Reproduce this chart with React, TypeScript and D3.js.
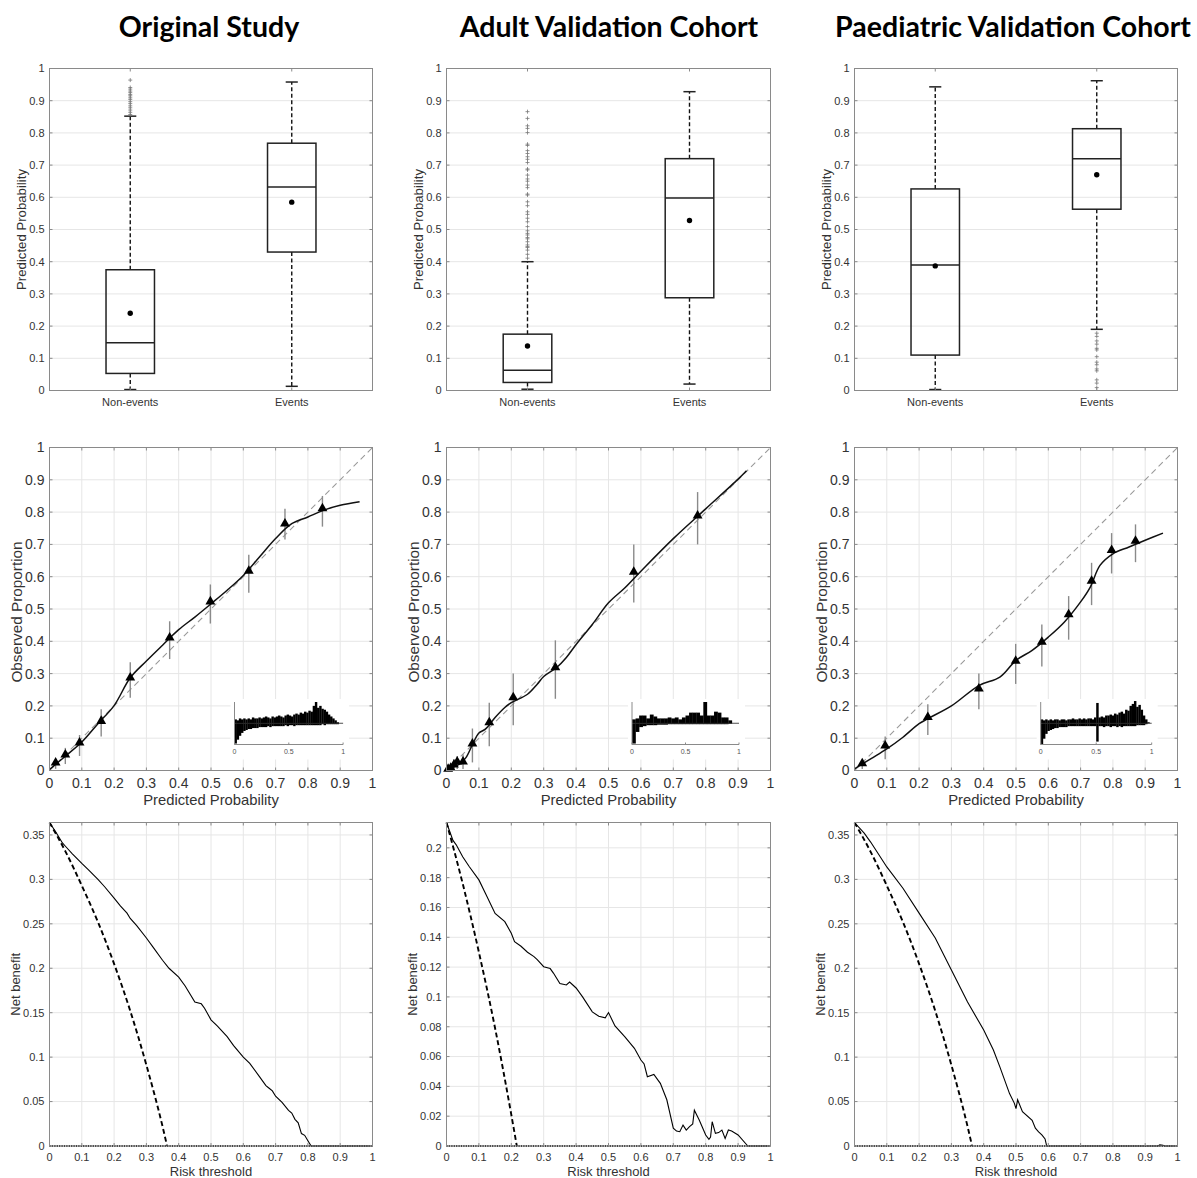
import React from "react";
import * as d3 from "d3";

// ---------------- DATA ----------------
const titles = ["Original Study", "Adult Validation Cohort", "Paediatric Validation Cohort"];
const boxCategories = ["Non-events", "Events"];

// box stats: [lower whisker, Q1, median, Q3, upper whisker]
const origNonEvents = [0.003, 0.053, 0.148, 0.375, 0.852];
const origEvents = [0.013, 0.43, 0.632, 0.768, 0.958];
const origMeans = [0.24, 0.585];
const origOutNon = [0.857, 0.864, 0.871, 0.878, 0.884, 0.891, 0.897, 0.904, 0.909, 0.915, 0.919, 0.925, 0.93, 0.936, 0.941, 0.964];
const origOutEv: number[] = [];

const adultNonEvents = [0.004, 0.025, 0.063, 0.175, 0.4];
const adultEvents = [0.02, 0.288, 0.598, 0.72, 0.928];
const adultMeans = [0.138, 0.528];
const adultOutNon = [0.866, 0.845, 0.822, 0.814, 0.801, 0.765, 0.761, 0.745, 0.736, 0.726, 0.718, 0.708, 0.688, 0.685, 0.669, 0.657, 0.65, 0.638, 0.63, 0.61, 0.607, 0.586, 0.574, 0.555, 0.547, 0.535, 0.524, 0.509, 0.496, 0.488, 0.483, 0.475, 0.471, 0.462, 0.452, 0.447, 0.444, 0.436, 0.423, 0.411];
const adultOutEv: number[] = [];

const paedNonEvents = [0.003, 0.11, 0.39, 0.626, 0.943];
const paedEvents = [0.19, 0.563, 0.72, 0.813, 0.962];
const paedMeans = [0.387, 0.67];
const paedOutNon: number[] = [];
const paedOutEv = [0.178, 0.168, 0.154, 0.144, 0.131, 0.126, 0.105, 0.088, 0.08, 0.067, 0.061, 0.033, 0.023, 0.009];

// calibration grouped points
const origCalX = [0.019, 0.049, 0.093, 0.16, 0.25, 0.372, 0.498, 0.617, 0.729, 0.845];
const origCalY = [0.021, 0.046, 0.083, 0.15, 0.284, 0.408, 0.52, 0.615, 0.761, 0.808];
const origCalLo = [0.005, 0.02, 0.045, 0.105, 0.225, 0.345, 0.455, 0.55, 0.715, 0.755];
const origCalHi = [0.035, 0.07, 0.11, 0.19, 0.335, 0.462, 0.576, 0.668, 0.81, 0.85];
const origCurveX = [0, 0.02, 0.05, 0.1, 0.15, 0.2, 0.25, 0.3, 0.35, 0.4, 0.45, 0.5, 0.55, 0.6, 0.65, 0.7, 0.75, 0.8, 0.85, 0.9, 0.96];
const origCurveY = [0.003, 0.02, 0.045, 0.088, 0.145, 0.201, 0.287, 0.339, 0.388, 0.436, 0.475, 0.516, 0.558, 0.604, 0.661, 0.718, 0.764, 0.785, 0.806, 0.821, 0.832];

const adultCalX = [0.005, 0.013, 0.023, 0.033, 0.051, 0.08, 0.132, 0.206, 0.336, 0.578, 0.775];
const adultCalY = [0.002, 0.005, 0.015, 0.024, 0.024, 0.08, 0.146, 0.223, 0.316, 0.612, 0.786];
const adultCalLo = [0, 0, 0.002, 0.005, 0.005, 0.025, 0.075, 0.14, 0.222, 0.52, 0.7];
const adultCalHi = [0.01, 0.02, 0.035, 0.045, 0.05, 0.13, 0.21, 0.3, 0.403, 0.7, 0.862];
const adultCurveX = [0, 0.02, 0.04, 0.06, 0.08, 0.1, 0.12, 0.15, 0.18, 0.2, 0.25, 0.28, 0.3, 0.34, 0.37, 0.4, 0.45, 0.5, 0.55, 0.6, 0.7, 0.8, 0.9, 0.926];
const adultCurveY = [0, 0.01, 0.02, 0.04, 0.08, 0.116, 0.128, 0.164, 0.195, 0.21, 0.236, 0.267, 0.291, 0.319, 0.35, 0.39, 0.452, 0.519, 0.565, 0.617, 0.718, 0.81, 0.902, 0.928];

const paedCalX = [0.024, 0.095, 0.227, 0.385, 0.499, 0.58, 0.663, 0.734, 0.796, 0.87];
const paedCalY = [0.019, 0.074, 0.162, 0.25, 0.336, 0.395, 0.48, 0.584, 0.679, 0.708];
const paedCalLo = [0.005, 0.035, 0.11, 0.19, 0.268, 0.322, 0.405, 0.512, 0.61, 0.645];
const paedCalHi = [0.03, 0.105, 0.205, 0.3, 0.392, 0.452, 0.54, 0.643, 0.735, 0.762];
const paedCurveX = [0, 0.05, 0.1, 0.15, 0.2, 0.23, 0.3, 0.385, 0.45, 0.5, 0.55, 0.6, 0.65, 0.7, 0.73, 0.76, 0.8, 0.85, 0.9, 0.955];
const paedCurveY = [0.005, 0.036, 0.067, 0.103, 0.145, 0.162, 0.2, 0.263, 0.289, 0.341, 0.372, 0.413, 0.46, 0.522, 0.568, 0.635, 0.671, 0.692, 0.713, 0.735];

// inset histograms (mirrored): events above, non-events below
const origHistEvents = [4, 3, 5, 4, 5, 4, 5, 4, 6, 5, 5, 6, 5, 6, 7, 6, 5, 7, 6, 7, 8, 7, 6, 8, 9, 8, 7, 9, 10, 9, 11, 10, 12, 11, 13, 12, 18, 22, 16, 18, 15, 14, 12, 9, 7, 5, 3, 1, 0, 0];
const origHistNon = [21, 17, 13, 10, 8, 7, 6, 6, 5, 5, 5, 4, 4, 4, 4, 3, 4, 3, 3, 3, 3, 3, 3, 2, 3, 2, 2, 3, 2, 2, 2, 2, 2, 2, 2, 2, 2, 2, 2, 2, 1, 2, 1, 1, 1, 1, 1, 1, 0, 0];
const adultHistEvents = [4, 5, 8, 8, 5, 9, 7, 5, 5, 5, 6, 5, 6, 4, 6, 8, 11, 11, 11, 8, 22, 8, 8, 12, 11, 6, 6, 3];
const adultHistNon = [21, 9, 4, 3, 2, 2, 2, 1.5, 1.5, 1.5, 1, 1, 1, 1, 1, 1, 1, 1, 1, 1, 1, 1, 1, 1, 1, 1, 1, 0.5];
const paedHistEvents = [4, 3, 4, 3, 4, 3, 4, 4, 3, 4, 4, 3, 4, 4, 5, 4, 4, 5, 4, 5, 4, 5, 5, 4, 6, 21, 6, 7, 6, 8, 8, 9, 8, 10, 9, 11, 12, 10, 14, 13, 18, 20, 23, 17, 19, 14, 8, 4, 1, 0];
const paedHistNon = [22, 16, 11, 8, 7, 6, 5, 5, 4, 4, 4, 4, 3, 3, 3, 3, 3, 3, 3, 3, 3, 3, 3, 3, 3, 19, 3, 3, 4, 3, 3, 4, 3, 3, 4, 3, 4, 3, 3, 3, 3, 3, 3, 2, 2, 2, 2, 1, 0, 0];

// decision curves
const origModelX = [0, 0.02, 0.04, 0.05, 0.07, 0.1, 0.12, 0.15, 0.17, 0.2, 0.22, 0.24, 0.25, 0.27, 0.3, 0.32, 0.35, 0.37, 0.4, 0.42, 0.45, 0.47, 0.48, 0.5, 0.52, 0.55, 0.57, 0.6, 0.62, 0.65, 0.67, 0.68, 0.69, 0.7, 0.72, 0.74, 0.75, 0.76, 0.77, 0.78, 0.79, 0.8, 0.81, 1];
const origModelY = [0.364, 0.353, 0.341, 0.337, 0.329, 0.318, 0.311, 0.3, 0.292, 0.279, 0.27, 0.262, 0.256, 0.248, 0.234, 0.224, 0.209, 0.2, 0.19, 0.18, 0.162, 0.16, 0.155, 0.142, 0.135, 0.123, 0.113, 0.1, 0.093, 0.078, 0.068, 0.065, 0.062, 0.056, 0.049, 0.04, 0.037, 0.03, 0.026, 0.014, 0.012, 0.006, 0, 0];
const origAllX = [0, 0.05, 0.1, 0.15, 0.2, 0.25, 0.3, 0.35, 0.364];
const origAllY = [0.364, 0.331, 0.293, 0.252, 0.205, 0.152, 0.091, 0.022, 0];

const adultModelX = [0, 0.02, 0.03, 0.05, 0.07, 0.1, 0.12, 0.15, 0.18, 0.2, 0.21, 0.23, 0.25, 0.27, 0.28, 0.3, 0.32, 0.33, 0.35, 0.37, 0.38, 0.4, 0.42, 0.45, 0.47, 0.49, 0.5, 0.52, 0.55, 0.58, 0.6, 0.61, 0.62, 0.64, 0.66, 0.68, 0.7, 0.71, 0.72, 0.73, 0.74, 0.75, 0.76, 0.765, 0.78, 0.8, 0.81, 0.815, 0.82, 0.83, 0.84, 0.85, 0.86, 0.87, 0.88, 0.9, 0.93, 1];
const adultModelY = [0.217, 0.205, 0.202, 0.194, 0.1875, 0.1785, 0.1696, 0.156, 0.1505, 0.1427, 0.137, 0.134, 0.13, 0.127, 0.125, 0.1203, 0.119, 0.116, 0.109, 0.108, 0.11, 0.106, 0.1, 0.09, 0.087, 0.086, 0.0895, 0.0805, 0.0734, 0.0655, 0.0577, 0.055, 0.0465, 0.048, 0.042, 0.031, 0.012, 0.01, 0.0096, 0.014, 0.0107, 0.013, 0.0148, 0.024, 0.0175, 0.0074, 0.0045, 0.006, 0.0163, 0.0085, 0.009, 0.0107, 0.005, 0.0107, 0.01, 0.0074, 0, 0];
const adultAllX = [0, 0.05, 0.1, 0.15, 0.2, 0.217];
const adultAllY = [0.217, 0.176, 0.13, 0.079, 0.021, 0];

const paedModelX = [0, 0.03, 0.05, 0.1, 0.15, 0.2, 0.25, 0.3, 0.35, 0.4, 0.43, 0.45, 0.48, 0.495, 0.5, 0.505, 0.52, 0.55, 0.56, 0.57, 0.58, 0.59, 0.595, 0.94, 0.945, 0.955, 0.96, 1];
const paedModelY = [0.364, 0.352, 0.342, 0.314, 0.29, 0.262, 0.234, 0.198, 0.162, 0.1305, 0.108, 0.089, 0.059, 0.048, 0.042, 0.052, 0.0386, 0.029, 0.02, 0.016, 0.0124, 0.008, 0, 0, 0.0012, 0.0008, 0, 0];
const paedAllX = [0, 0.05, 0.1, 0.15, 0.2, 0.25, 0.3, 0.35, 0.364];
const paedAllY = [0.364, 0.331, 0.293, 0.252, 0.205, 0.152, 0.091, 0.022, 0];

const noneX = [0, 1];
const noneY = [0, 0];

const unitTicks = d3.range(0, 11).map((i) => i / 10);
const nbTicksWide = d3.range(0, 8).map((i) => i * 0.05);
const nbTicksNarrow = d3.range(0, 11).map((i) => i * 0.02);
const insetTicks = [0, 0.5, 1];

// ---------------- LAYOUT ----------------
const W = 1197;
const H = 1178;
const COLS = [
  [49.5, 372.5],
  [446.5, 770.5],
  [854.5, 1177.5],
];
const ROWS = [
  [68.5, 390.5],
  [447.5, 770.5],
  [822.5, 1146],
];
const TITLE_X = [209, 609, 1013];
const FONT = "'Liberation Sans', Arial, Helvetica, sans-serif";
const AXIS = "#8a8a8a";
const GRID = "#e6e6e6";
const TXT = "#333333";

const fmt = (v: number) => String(+v.toFixed(3));

function Frame({ x0, x1, y0, y1, xs, ys, xTicks, yTicks, xLabels, fs, xLabY }: any) {
  return (
    <g>
      <rect x={x0} y={y0} width={x1 - x0} height={y1 - y0} fill="none" stroke={AXIS} strokeWidth={1} />
      {yTicks.map((t: number, i: number) => (
        <g key={"yt" + i}>
          <line x1={x0} x2={x0 + 3} y1={ys(t)} y2={ys(t)} stroke={AXIS} />
          <line x1={x1 - 3} x2={x1} y1={ys(t)} y2={ys(t)} stroke={AXIS} />
          <text x={x0 - 5} y={ys(t)} dy="0.35em" textAnchor="end" fontSize={fs} fill={TXT}>
            {fmt(t)}
          </text>
        </g>
      ))}
      {xTicks.map((t: number, i: number) => (
        <g key={"xt" + i}>
          <line x1={xs(t)} x2={xs(t)} y1={y1} y2={y1 - 3} stroke={AXIS} />
          <line x1={xs(t)} x2={xs(t)} y1={y0} y2={y0 + 3} stroke={AXIS} />
          <text x={xs(t)} y={y1 + xLabY} textAnchor="middle" fontSize={fs} fill={TXT}>
            {xLabels ? xLabels[i] : fmt(t)}
          </text>
        </g>
      ))}
    </g>
  );
}

function BoxPanel({ col, nonStats, evStats, means, outNon, outEv }: any) {
  const [x0, x1] = COLS[col];
  const [y0, y1] = ROWS[0];
  const xs = d3.scaleLinear().domain([0.5, 2.5]).range([x0, x1]);
  const ys = d3.scaleLinear().domain([0, 1]).range([y1, y0]);
  const groups = [
    { pos: 1, s: nonStats, out: outNon, mean: means[0] },
    { pos: 2, s: evStats, out: outEv, mean: means[1] },
  ];
  const bw = xs(1.15) - xs(1);
  const cw = bw / 2;
  return (
    <g>
      {unitTicks.map((t, i) => (
        <line key={i} x1={x0} x2={x1} y1={ys(t)} y2={ys(t)} stroke={GRID} />
      ))}
      {groups.map((g, i) => {
        const cx = xs(g.pos);
        const [lo, q1, md, q3, hi] = g.s;
        return (
          <g key={i}>
            <line x1={cx} x2={cx} y1={ys(q3)} y2={ys(hi)} stroke="#111" strokeWidth={1.4} strokeDasharray="4,2.5" />
            <line x1={cx} x2={cx} y1={ys(q1)} y2={ys(lo)} stroke="#111" strokeWidth={1.4} strokeDasharray="4,2.5" />
            <line x1={cx - cw / 2} x2={cx + cw / 2} y1={ys(hi)} y2={ys(hi)} stroke="#222" strokeWidth={1.5} />
            <line x1={cx - cw / 2} x2={cx + cw / 2} y1={ys(lo)} y2={ys(lo)} stroke="#222" strokeWidth={1.5} />
            <rect x={cx - bw} y={ys(q3)} width={2 * bw} height={ys(q1) - ys(q3)} fill="none" stroke="#222" strokeWidth={1.5} />
            <line x1={cx - bw} x2={cx + bw} y1={ys(md)} y2={ys(md)} stroke="#222" strokeWidth={1.5} />
            {g.out.map((v: number, k: number) => (
              <path key={k} d={`M${cx - 2},${ys(v)}H${cx + 2}M${cx},${ys(v) - 2}V${ys(v) + 2}`} stroke="#777" strokeWidth={0.8} />
            ))}
            <circle cx={cx} cy={ys(g.mean)} r={2.7} fill="#000" />
          </g>
        );
      })}
      <Frame x0={x0} x1={x1} y0={y0} y1={y1} xs={xs} ys={ys} xTicks={[1, 2]} yTicks={unitTicks} xLabels={boxCategories} fs={11} xLabY={15} />
      <text transform={`translate(${x0 - 28},${(y0 + y1) / 2}) rotate(-90)`} textAnchor="middle" dy="0.35em" fontSize={13.2} fill={TXT}>
        Predicted Probability
      </text>
    </g>
  );
}

function Inset({ left, top, width, height, events, non, binW }: any) {
  const xs = d3.scaleLinear().domain([0, 1]).range([left, left + width]);
  const ys = d3.scaleLinear().domain([-22, 22]).range([top + height, top]);
  const mid = ys(0);
  const bwPx = xs(binW) - xs(0) + 0.25;
  return (
    <g>
      <rect x={left - 4} y={top - 3} width={width + 10} height={height + 18} fill="#fff" />
      {events.map((v: number, i: number) => (
        <rect key={"e" + i} x={xs(i * binW)} width={bwPx} y={ys(v)} height={mid - ys(v)} fill="#000" />
      ))}
      {non.map((v: number, i: number) => (
        <rect key={"n" + i} x={xs(i * binW)} width={bwPx} y={mid} height={ys(-v) - mid} fill="#000" />
      ))}
      <line x1={xs(0)} x2={xs(1)} y1={mid} y2={mid} stroke="#222" strokeWidth={0.8} />
      <line x1={left} x2={left} y1={top} y2={top + height} stroke={AXIS} />
      <line x1={left} x2={left + width} y1={top + height} y2={top + height} stroke={AXIS} />
      {insetTicks.map((t, i) => (
        <g key={i}>
          <line x1={xs(t)} x2={xs(t)} y1={top + height} y2={top + height - 2} stroke={AXIS} />
          <text x={xs(t)} y={top + height + 9} textAnchor="middle" fontSize={7} fill="#555">
            {fmt(t)}
          </text>
        </g>
      ))}
    </g>
  );
}

function CalPanel({ col, cx, cy, lo, hi, curveX, curveY, hist, inset }: any) {
  const [x0, x1] = COLS[col];
  const [y0, y1] = ROWS[1];
  const xs = d3.scaleLinear().domain([0, 1]).range([x0, x1]);
  const ys = d3.scaleLinear().domain([0, 1]).range([y1, y0]);
  const curve = d3
    .line<number>()
    .x((d, i) => xs(curveX[i]))
    .y((d, i) => ys(curveY[i]))
    .curve(d3.curveCatmullRom.alpha(0.5))(curveX as any);
  const tri = d3.symbol().type(d3.symbolTriangle).size(42)();
  return (
    <g>
      {unitTicks.map((t, i) => (
        <g key={i}>
          <line x1={x0} x2={x1} y1={ys(t)} y2={ys(t)} stroke={GRID} />
          <line x1={xs(t)} x2={xs(t)} y1={y0} y2={y1} stroke={GRID} />
        </g>
      ))}
      <line x1={xs(0)} y1={ys(0)} x2={xs(1)} y2={ys(1)} stroke="#9a9a9a" strokeWidth={1.1} strokeDasharray="6,4" />
      {cx.map((v: number, i: number) => (
        <line key={"eb" + i} x1={xs(v)} x2={xs(v)} y1={ys(lo[i])} y2={ys(hi[i])} stroke="#8a8a8a" strokeWidth={1.4} />
      ))}
      <path d={curve || ""} fill="none" stroke="#111" strokeWidth={1.5} />
      {cx.map((v: number, i: number) => (
        <path key={"tr" + i} d={tri || ""} transform={`translate(${xs(v)},${ys(cy[i]) - 1})`} fill="#000" />
      ))}
      <Frame x0={x0} x1={x1} y0={y0} y1={y1} xs={xs} ys={ys} xTicks={unitTicks} yTicks={unitTicks} fs={14} xLabY={17.5} />
      <Inset left={x0 + inset.dx} top={y0 + 254.5} width={inset.w} height={42.5} events={hist[0]} non={hist[1]} binW={hist[2]} />
      <text transform={`translate(${x0 - 33},${(y0 + y1) / 2 + 3}) rotate(-90)`} textAnchor="middle" dy="0.35em" fontSize={15.3} fill={TXT}>
        Observed Proportion
      </text>
      <text x={(x0 + x1) / 2} y={805} textAnchor="middle" fontSize={14.8} fill={TXT}>
        Predicted Probability
      </text>
    </g>
  );
}

function DcaPanel({ col, modelX, modelY, allX, allY, yMax, yTicks }: any) {
  const [x0, x1] = COLS[col];
  const [y0, y1] = ROWS[2];
  const xs = d3.scaleLinear().domain([0, 1]).range([x0, x1]);
  const ys = d3.scaleLinear().domain([0, yMax]).range([y1, y0]);
  const mk = (X: number[], Y: number[], c: any) =>
    d3
      .line<number>()
      .x((d, i) => xs(X[i]))
      .y((d, i) => ys(Y[i]))
      .curve(c)(X as any) || "";
  return (
    <g>
      {unitTicks.map((t, i) => (
        <line key={"gx" + i} x1={xs(t)} x2={xs(t)} y1={y0} y2={y1} stroke={GRID} />
      ))}
      {yTicks.map((t: number, i: number) => (
        <line key={"gy" + i} x1={x0} x2={x1} y1={ys(t)} y2={ys(t)} stroke={GRID} />
      ))}
      <path d={mk(allX, allY, d3.curveMonotoneX)} fill="none" stroke="#000" strokeWidth={1.9} strokeDasharray="5,3" />
      <path d={mk(modelX, modelY, d3.curveLinear)} fill="none" stroke="#000" strokeWidth={1.1} />
      <path d={mk(noneX, noneY, d3.curveLinear)} fill="none" stroke="#000" strokeWidth={2} strokeDasharray="1.2,1.2" />
      <Frame x0={x0} x1={x1} y0={y0} y1={y1} xs={xs} ys={ys} xTicks={unitTicks} yTicks={yTicks} fs={11} xLabY={15} />
      <text transform={`translate(${x0 - 34},${(y0 + y1) / 2}) rotate(-90)`} textAnchor="middle" dy="0.35em" fontSize={13} fill={TXT}>
        Net benefit
      </text>
      <text x={(x0 + x1) / 2} y={1176} textAnchor="middle" fontSize={13} fill={TXT}>
        Risk threshold
      </text>
    </g>
  );
}

export default function App() {
  return (
    <div style={{ position: "absolute", left: 0, top: 0 }}>
      <svg width={W} height={H} style={{ display: "block", background: "#fff" }} fontFamily={FONT}>
        <rect width={W} height={H} fill="#fff" />
        {titles.map((t, i) => (
          <text key={i} x={TITLE_X[i]} y={37} textAnchor="middle" fontFamily="Lato, 'Open Sans', sans-serif" fontWeight={700} fontSize={28.5} fill="#000">
            {t}
          </text>
        ))}
        <BoxPanel col={0} nonStats={origNonEvents} evStats={origEvents} means={origMeans} outNon={origOutNon} outEv={origOutEv} />
        <BoxPanel col={1} nonStats={adultNonEvents} evStats={adultEvents} means={adultMeans} outNon={adultOutNon} outEv={adultOutEv} />
        <BoxPanel col={2} nonStats={paedNonEvents} evStats={paedEvents} means={paedMeans} outNon={paedOutNon} outEv={paedOutEv} />

        <CalPanel col={0} cx={origCalX} cy={origCalY} lo={origCalLo} hi={origCalHi} curveX={origCurveX} curveY={origCurveY} hist={[origHistEvents, origHistNon, 0.02]} inset={{ dx: 185, w: 108.6 }} />
        <CalPanel col={1} cx={adultCalX} cy={adultCalY} lo={adultCalLo} hi={adultCalHi} curveX={adultCurveX} curveY={adultCurveY} hist={[adultHistEvents, adultHistNon, 1 / 30]} inset={{ dx: 185.5, w: 107 }} />
        <CalPanel col={2} cx={paedCalX} cy={paedCalY} lo={paedCalLo} hi={paedCalHi} curveX={paedCurveX} curveY={paedCurveY} hist={[paedHistEvents, paedHistNon, 0.02]} inset={{ dx: 186.2, w: 111 }} />

        <DcaPanel col={0} modelX={origModelX} modelY={origModelY} allX={origAllX} allY={origAllY} yMax={0.364} yTicks={nbTicksWide} />
        <DcaPanel col={1} modelX={adultModelX} modelY={adultModelY} allX={adultAllX} allY={adultAllY} yMax={0.217} yTicks={nbTicksNarrow} />
        <DcaPanel col={2} modelX={paedModelX} modelY={paedModelY} allX={paedAllX} allY={paedAllY} yMax={0.364} yTicks={nbTicksWide} />
      </svg>
    </div>
  );
}
